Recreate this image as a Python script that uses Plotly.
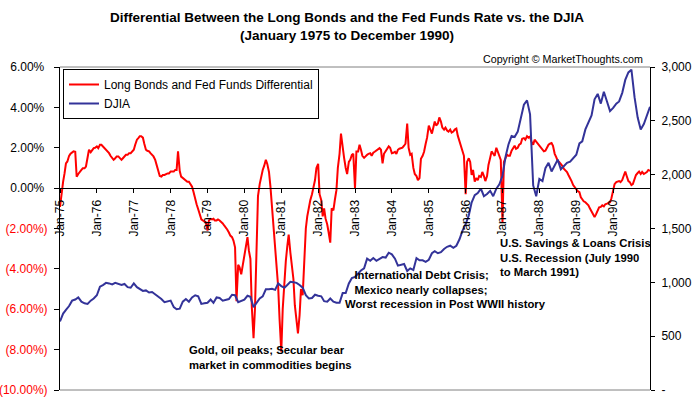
import pandas as pd
import plotly.graph_objects as go

# ---------------- data ----------------
# Long bond minus Fed funds differential, %, semi-monthly from 1 Jan 1975
diff_values = [
    # 1975
    -0.93, -0.3, 0.32, 0.73, 1.23, 1.32, 1.6, 1.7, 1.78, 1.82, 1.8, 0.57,
    0.7, 0.82, 0.9, 0.98, 0.98, 1.07, 1.5, 1.9, 1.78, 1.9, 1.98, 2.0,
    # 1976
    2.07, 1.98, 2.15, 2.15, 2.07, 2.0, 1.9, 1.85, 1.73, 1.6, 1.45, 1.4,
    1.48, 1.57, 1.57, 1.5, 1.4, 1.48, 1.6, 1.65, 1.65, 1.73, 1.73, 1.82,
    # 1977
    1.9, 2.15, 2.4, 2.48, 2.57, 2.57, 2.5, 2.2, 1.9, 1.85, 1.82, 1.73,
    1.65, 1.57, 1.4, 1.15, 0.8, 0.6, 0.57, 0.65, 0.65, 0.7, 0.73, 0.73,
    # 1978
    0.82, 0.82, 0.82, 0.9, 0.9, 1.82, 0.85, 0.57, 0.5, 0.45, 0.4, 0.32,
    0.32, 0.2, 0.07, -0.18, -0.6, -0.8, -1.05, -1.3, -1.55, -1.6, -1.65, -1.68,
    # 1979
    -2.1, -1.6, -1.52, -1.55, -1.52, -1.6, -1.6, -1.55, -1.6, -1.65, -1.75, -1.85,
    -1.93, -2.05, -2.2, -2.35, -2.43, -2.6, -2.93, -5.6, -3.8, -3.93, -4.27, -3.9,
    # 1980
    -3.4, -3.0, -2.43, -3.1, -3.5, -5.9, -7.43, -6.0, -2.5, -0.4, 0.2, 0.6,
    0.9, 1.1, 1.4, 1.2, 0.8, 0.1, -0.9, -1.9, -2.6, -3.8, -4.9, -6.5,
    # 1981
    -8.1, -6.0, -4.3, -3.6, -2.9, -2.3, -3.2, -3.9, -4.5, -5.8, -6.6, -7.2,
    -6.3, -5.0, -5.3, -3.6, -2.0, -1.4, -0.9, -0.6, -0.3, 0.0, 0.4, 1.0,
    # 1982
    1.2, -0.3, -0.6, -1.4, -1.0, -1.5, -1.8, -2.2, -2.7, -1.0, -1.1, -0.6,
    -0.1, 1.0, 1.7, 2.7, 1.9, 1.5, 1.0, 0.7, 1.3, 1.4, 1.65, 1.7,
    # 1983
    0.0, 1.82, 1.82, 2.15, 1.9, 1.6, 1.5, 1.6, 1.65, 1.7, 1.73, 1.6,
    1.75, 1.8, 1.85, 1.9, 1.98, 1.9, 1.23, 1.7, 1.85, 1.95, 2.07, 2.0,
    # 1984
    1.73, 1.75, 1.8, 1.7, 1.9, 1.95, 2.0, 2.0, 2.1, 2.2, 3.2, 2.0,
    1.65, 1.7, 1.0, 0.7, 0.6, 0.4, 0.5, 1.45, 1.6, 1.8, 2.2, 2.5,
    # 1985
    3.1, 2.9, 2.7, 3.0, 3.3, 3.1, 3.2, 3.5, 3.3, 3.0, 2.9, 3.0,
    2.85, 2.8, 2.9, 2.75, 2.8, 2.9, 2.95, 2.6, 2.3, 2.15, 1.9, 1.6,
    # 1986
    -0.3, 1.3, 1.48, 1.3, 0.65, 0.9, 0.32, 0.5, 0.4, 0.6, 0.55, 0.8,
    0.6, 0.35, 0.6, 1.15, 1.5, 1.82, 1.7, 1.6, 2.0, 1.8, 1.65, 1.4,
    # 1987
    -1.7, 1.3, 1.5, 1.65, 1.6, 1.6, 1.85, 2.0, 2.1, 1.95, 2.0, 2.15,
    2.2, 2.45, 2.48, 2.4, 2.57, 2.5, 2.55, 2.3, 2.15, 2.4, 2.3, 2.2,
    # 1988
    2.1, 2.0, 1.95, 1.82, 1.85, 2.0, 2.15, 2.2, 2.23, 2.1, 1.7, 1.55,
    1.35, 1.3, 1.2, 1.1, 0.95, 0.9, 0.8, 0.65, 0.5, 0.35, 0.15, 0.05,
    # 1989
    -0.02, -0.15, -0.2, -0.45, -0.55, -0.65, -0.7, -0.75, -0.85, -1.0, -1.15, -1.3,
    -1.43, -1.3, -1.1, -0.95, -0.93, -0.85, -0.9, -0.8, -0.77, -0.75, -0.7, -0.5,
    # 1990
    -0.02, 0.2, 0.3, 0.32, 0.35, 0.3, 0.4, 0.6, 0.82, 0.6, 0.35, 0.3,
    0.15, 0.2, 0.5, 0.65, 0.75, 0.82, 0.7, 0.8, 0.7, 0.75, 0.8, 0.9,
    # 1 Jan 1991
    0.85,
]

# Dow Jones Industrial Average, monthly from 1 Jan 1975
djia_values = [
    637, 710, 745, 780, 830, 840, 860, 820, 805, 800, 830, 850,            # 1975
    880, 960, 975, 995, 990, 980, 995, 985, 975, 985, 955, 950,            # 1976
    990, 955, 935, 920, 925, 905, 910, 890, 865, 845, 815, 825,            # 1977
    830, 770, 750, 755, 820, 845, 820, 860, 880, 870, 800, 805,            # 1978
    810, 840, 810, 860, 855, 830, 840, 845, 885, 880, 815, 825,            # 1979
    840, 875, 865, 770, 815, 850, 870, 935, 935, 940, 930, 990,            # 1980
    965, 950, 975, 1005, 1000, 995, 975, 950, 880, 850, 855, 885,          # 1981
    875, 870, 825, 820, 850, 820, 810, 810, 900, 900, 990, 1040,           # 1982
    1050, 1080, 1110, 1130, 1220, 1200, 1225, 1200, 1215, 1235, 1230, 1275,  # 1983
    1260, 1220, 1155, 1165, 1170, 1105, 1130, 1115, 1225, 1205, 1205, 1190,  # 1984
    1210, 1270, 1290, 1270, 1280, 1310, 1330, 1340, 1320, 1340, 1400, 1480,  # 1985
    1540, 1620, 1740, 1810, 1830, 1870, 1800, 1820, 1850, 1800, 1870, 1910,  # 1986
    1990, 2170, 2280, 2360, 2350, 2400, 2520, 2650, 2690, 2560, 1900, 1800,  # 1987
    1960, 1940, 2060, 2110, 2030, 2080, 2140, 2050, 2080, 2110, 2120, 2150,  # 1988
    2185, 2290, 2310, 2420, 2480, 2550, 2700, 2750, 2660, 2770, 2680, 2590,  # 1989
    2620, 2660, 2680, 2760, 2880, 2950, 2975, 2720, 2530, 2420, 2470, 2560,  # 1990
    2630,                                                                    # Jan 1991
]

year_labels = ["Jan-75", "Jan-76", "Jan-77", "Jan-78", "Jan-79", "Jan-80",
               "Jan-81", "Jan-82", "Jan-83", "Jan-84", "Jan-85", "Jan-86",
               "Jan-87", "Jan-88", "Jan-89", "Jan-90"]

left_tick_values = [6, 4, 2, 0, -2, -4, -6, -8, -10]
left_tick_labels = ["6.00%", "4.00%", "2.00%", "0.00%", "(2.00%)", "(4.00%)",
                    "(6.00%)", "(8.00%)", "(10.00%)"]

right_tick_values = [3000, 2500, 2000, 1500, 1000, 500, 0]
right_tick_labels = ["3,000", "2,500", "2,000", "1,500", "1,000", "500", "-"]

series_names = ["Long Bonds and Fed Funds Differential", "DJIA"]

# ---------------- derived ----------------
diff_dates = pd.date_range("1975-01-01", periods=len(diff_values), freq="SMS")
djia_dates = pd.date_range("1975-01-01", periods=len(djia_values), freq="MS")
tick_dates = pd.date_range("1975-01-01", periods=len(year_labels), freq="YS")

left_text = []
for v, lab in zip(left_tick_values, left_tick_labels):
    if v < 0:
        left_text.append('<span style="color:#FF0000">%s</span>' % lab)
    else:
        left_text.append(lab + "\u00a0")

# ---------------- layout geometry ----------------
W, H = 693, 398
L, R, T, B = 60, 650, 67, 390   # plot area in pixels


def px(x):
    return (x - L) / (R - L)


def py(y):
    return (B - y) / (B - T)


FONT = "Liberation Sans, Arial, sans-serif"
RED = "#FF0000"
BLUE = "#333399"

fig = go.Figure()
fig.add_trace(go.Scatter(x=diff_dates, y=diff_values, name=series_names[0],
                         mode="lines", line=dict(color=RED, width=2),
                         yaxis="y"))
fig.add_trace(go.Scatter(x=djia_dates, y=djia_values, name=series_names[1],
                         mode="lines", line=dict(color=BLUE, width=2),
                         yaxis="y2"))

zero_pos = (0 - left_tick_values[-1]) / (left_tick_values[0] - left_tick_values[-1])

fig.update_layout(
    width=W, height=H,
    margin=dict(l=L, r=W - R, t=T, b=H - B, autoexpand=False),
    paper_bgcolor="white", plot_bgcolor="white",
    font=dict(family=FONT, size=12, color="black"),
    showlegend=True,
    legend=dict(x=px(63), y=py(69), xanchor="left", yanchor="top",
                bgcolor="white", bordercolor="black", borderwidth=1,
                font=dict(family=FONT, size=12, color="black"),
                itemwidth=30, tracegroupgap=0),
    xaxis=dict(type="date", range=["1975-01-01", "1991-01-01"],
               anchor="free", position=zero_pos,
               showline=True, linecolor="black", linewidth=1,
               ticks="outside", ticklen=4, tickcolor="black",
               tickvals=tick_dates, ticktext=year_labels, tickangle=-90,
               tickfont=dict(family=FONT, size=12, color="black"),
               showgrid=False, zeroline=False, ticklabelstandoff=2),
    yaxis=dict(range=[left_tick_values[-1], left_tick_values[0]],
               tickvals=left_tick_values, ticktext=left_text,
               showline=True, linecolor="black", linewidth=1,
               ticks="outside", ticklen=5, tickcolor="black",
               tickfont=dict(family=FONT, size=12, color="black"),
               showgrid=False, zeroline=False, ticklabelstandoff=4),
    yaxis2=dict(range=[right_tick_values[-1], right_tick_values[0]],
                overlaying="y", side="right",
                tickvals=right_tick_values, ticktext=right_tick_labels,
                showline=True, linecolor="black", linewidth=1,
                ticks="outside", ticklen=4, tickcolor="black",
                tickfont=dict(family=FONT, size=12, color="black"),
                showgrid=False, zeroline=False, ticklabelstandoff=4),
    shapes=[
        dict(type="line", xref="paper", yref="paper", x0=0, x1=1, y0=1, y1=1,
             line=dict(color="#808080", width=1), layer="below"),
        dict(type="line", xref="paper", yref="paper", x0=0, x1=1, y0=0, y1=0,
             line=dict(color="#808080", width=1), layer="below"),
    ],
)

ann_font = dict(family=FONT, size=11.3, color="black")
annotations = [
    dict(text="<b>Differential Between the Long Bonds and the Fed Funds Rate vs. the DJIA</b>"
              "<br><b>(January 1975 to December 1990)</b>",
         x=px(346.5), y=py(26), xanchor="center", yanchor="middle",
         font=dict(family=FONT, size=13.5, color="black")),
    dict(text="Copyright \u00a9 MarketThoughts.com",
         x=px(645), y=py(59), xanchor="right", yanchor="middle",
         font=dict(family=FONT, size=10.7, color="black")),
    dict(text="<b>Gold, oil peaks; Secular bear<br>market in commodities begins</b>",
         x=px(187), y=py(357), xanchor="left", yanchor="middle", align="left",
         font=ann_font),
    dict(text="<b>\u00a0\u00a0\u00a0International Debt Crisis;<br>"
              "\u00a0\u00a0\u00a0Mexico nearly collapses;<br>"
              "Worst recession in Post WWII history</b>",
         x=px(343), y=py(289), xanchor="left", yanchor="middle", align="left",
         font=ann_font),
    dict(text="<b>U.S. Savings &amp; Loans Crisis<br>U.S. Recession (July 1990<br>"
              "to March 1991)</b>",
         x=px(498), y=py(257), xanchor="left", yanchor="middle", align="left",
         font=ann_font),
]
for a in annotations:
    a.update(xref="paper", yref="paper", showarrow=False)
fig.update_layout(annotations=annotations)

fig.write_html("out.html", config={"displayModeBar": False},
               post_script="document.body.style.margin='0px';"
                           "document.body.style.overflow='hidden';")
